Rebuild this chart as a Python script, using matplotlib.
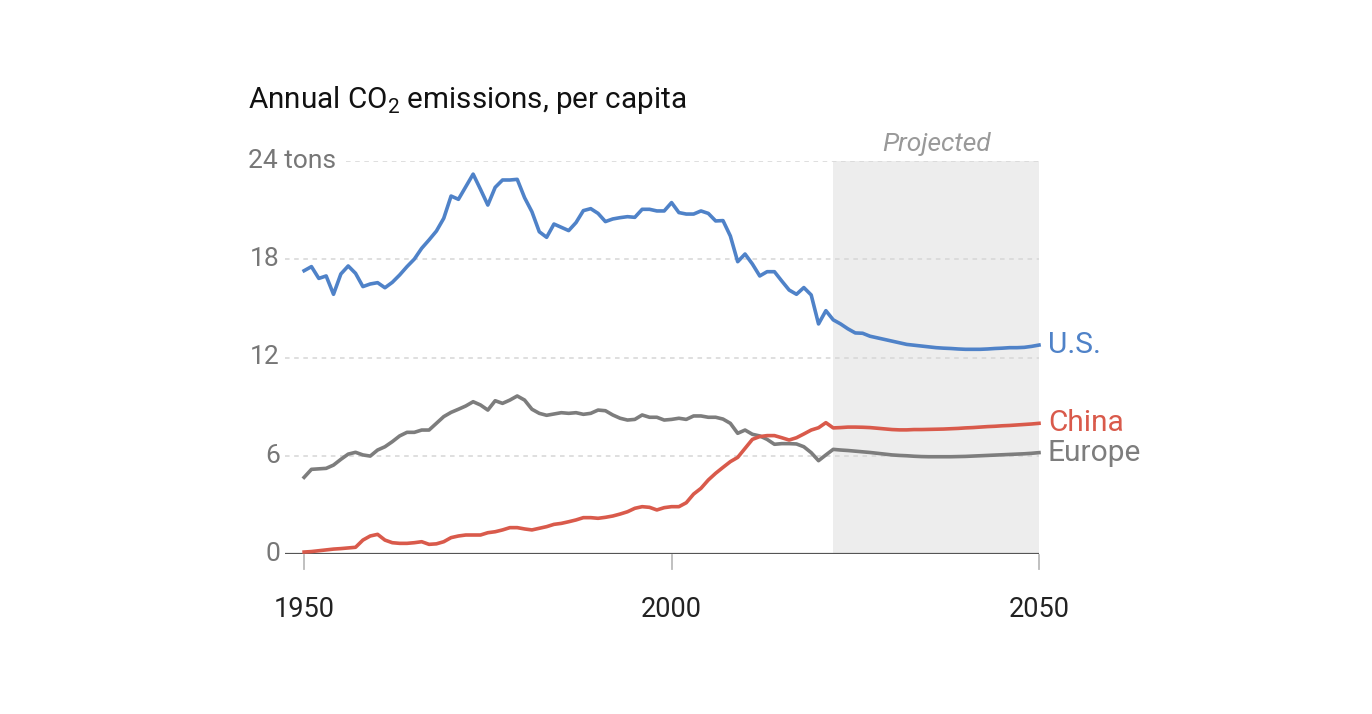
import numpy as np
import matplotlib
matplotlib.use('Agg')
import matplotlib.pyplot as plt

plt.rcParams['font.family'] = ['Roboto', 'DejaVu Sans']
plt.rcParams['mathtext.fontset'] = 'custom'
plt.rcParams['mathtext.rm'] = 'Roboto'

years = np.arange(1950, 2051)
proj_start = 2022

us = [17.3, 17.55, 16.83, 16.98, 15.86, 17.1, 17.59, 17.14, 16.33, 16.49,
      16.57, 16.26, 16.59, 17.04, 17.55, 18.01, 18.67, 19.18, 19.72, 20.5,
      21.86, 21.66, 22.43, 23.2, 22.27, 21.31, 22.39, 22.84, 22.84, 22.88,
      21.76, 20.9, 19.68, 19.34, 20.15, 19.95, 19.75, 20.24, 20.97, 21.09,
      20.8, 20.3, 20.46, 20.54, 20.6, 20.56, 21.05, 21.05, 20.95, 20.95,
      21.46, 20.85, 20.76, 20.76, 20.95, 20.8, 20.34, 20.36, 19.42, 17.85,
      18.32, 17.71, 16.98, 17.24, 17.24, 16.67, 16.12, 15.86, 16.27, 15.82,
      14.05, 14.86,
      14.3, 14.05, 13.75, 13.5, 13.48, 13.3, 13.2, 13.1, 13.0, 12.9,
      12.8, 12.75, 12.7, 12.65, 12.6, 12.57, 12.55, 12.52, 12.5, 12.5,
      12.5, 12.52, 12.55, 12.57, 12.6, 12.6, 12.62, 12.68, 12.76]

china = [0.12, 0.15, 0.2, 0.25, 0.3, 0.33, 0.37, 0.41, 0.85, 1.1,
         1.2, 0.85, 0.69, 0.65, 0.65, 0.69, 0.75, 0.59, 0.62, 0.75,
         1.0, 1.1, 1.16, 1.16, 1.16, 1.3, 1.36, 1.47, 1.61, 1.61,
         1.53, 1.47, 1.57, 1.67, 1.81, 1.87, 1.97, 2.08, 2.22, 2.22,
         2.18, 2.24, 2.32, 2.44, 2.58, 2.79, 2.89, 2.85, 2.69, 2.83,
         2.89, 2.89, 3.13, 3.66, 4.01, 4.52, 4.93, 5.29, 5.64, 5.9,
         6.45, 7.0, 7.17, 7.23, 7.23, 7.1, 6.96, 7.1, 7.33, 7.57,
         7.71, 8.02,
         7.7, 7.72, 7.75, 7.75, 7.74, 7.72, 7.68, 7.64, 7.6, 7.58,
         7.58, 7.6, 7.6, 7.61, 7.62, 7.63, 7.65, 7.67, 7.7, 7.72,
         7.75, 7.78, 7.8, 7.83, 7.85, 7.88, 7.91, 7.94, 7.98]

europe = [4.68, 5.17, 5.2, 5.23, 5.43, 5.78, 6.1, 6.21, 6.05, 5.98,
          6.35, 6.55, 6.86, 7.21, 7.43, 7.43, 7.57, 7.57, 7.98, 8.39,
          8.65, 8.84, 9.04, 9.3, 9.1, 8.79, 9.36, 9.2, 9.4, 9.65,
          9.4, 8.84, 8.59, 8.47, 8.55, 8.63, 8.59, 8.63, 8.53, 8.59,
          8.79, 8.75, 8.49, 8.29, 8.18, 8.22, 8.49, 8.35, 8.35, 8.18,
          8.22, 8.29, 8.22, 8.43, 8.43, 8.35, 8.35, 8.24, 7.98, 7.37,
          7.57, 7.31, 7.21, 7.0, 6.7, 6.74, 6.74, 6.72, 6.55, 6.19,
          5.7, 6.05,
          6.39, 6.35, 6.32, 6.28, 6.24, 6.2, 6.15, 6.1, 6.05, 6.02,
          6.0, 5.97, 5.95, 5.94, 5.94, 5.94, 5.94, 5.95, 5.96, 5.98,
          6.0, 6.02, 6.04, 6.06, 6.08, 6.1, 6.12, 6.15, 6.19]

yticks = [0, 6, 12, 18, 24]
xticks = [1950, 2000, 2050]

c_us = '#4f82c8'
c_china = '#d95a4b'
c_europe = '#7d7d7d'

W, H = 1372, 714
fig = plt.figure(figsize=(W / 100, H / 100), dpi=100)
ax = fig.add_axes([285 / W, 1 - 554 / H, (1039 - 285) / W, (554 - 161) / H])
ax.set_xlim(1947.4, 2050)
ax.set_ylim(0, 24)
for s in ax.spines.values():
    s.set_visible(False)
ax.set_xticks([])
ax.set_yticks([])

# projected shading
ax.axvspan(proj_start, 2050, color='#ededed', zorder=0, lw=0)
ax.text((proj_start + 2050) / 2, 24.3, 'Projected', ha='center', va='bottom',
        fontsize=19, style='italic', color='#999999')

# grid
for yv in yticks[1:]:
    xmin = 0.081 if yv == 24 else 0
    ax.axhline(yv, xmin=xmin, xmax=1, color='#d6d6d6', lw=1.1,
               ls=(0, (3, 3)), zorder=1)
ax.axhline(0, color='#555555', lw=1.6, zorder=2)

# y labels
for yv in yticks:
    if yv == 24:
        ax.text(1947.4 - 37 / 7.35, yv, '24 tons', ha='left', va='center',
                fontsize=19, color='#777777')
    else:
        ax.text(1947.4 - 5 / 7.35, yv, str(yv), ha='right', va='center',
                fontsize=19, color='#777777')

# x ticks
for xv in xticks:
    ax.plot([xv, xv], [-0.05, -0.9], color='#bbbbbb', lw=1.3, clip_on=False)
    ax.text(xv, -2.55, str(xv), ha='center', va='top', fontsize=19.5,
            color='#222222')

ax.plot(years, europe, color=c_europe, lw=2.6, clip_on=False, zorder=3,
        solid_joinstyle='round')
ax.plot(years, china, color=c_china, lw=2.6, clip_on=False, zorder=4,
        solid_joinstyle='round')
ax.plot(years, us, color=c_us, lw=2.6, clip_on=False, zorder=5,
        solid_joinstyle='round')

ax.text(2051.2, us[-1], 'U.S.', color=c_us, fontsize=21.5, va='center', ha='left')
ax.text(2051.2, china[-1] + 0.05, 'China', color=c_china, fontsize=21.5,
        va='center', ha='left')
ax.text(2051.2, europe[-1] - 0.05, 'Europe', color=c_europe, fontsize=21.5,
        va='center', ha='left')

fig.text(248 / W, 1 - 100 / H, 'Annual CO$_2$ emissions, per capita',
         ha='left', va='center', fontsize=21.3, color='#111111')

fig.savefig('out.png', dpi=100, facecolor='white')
